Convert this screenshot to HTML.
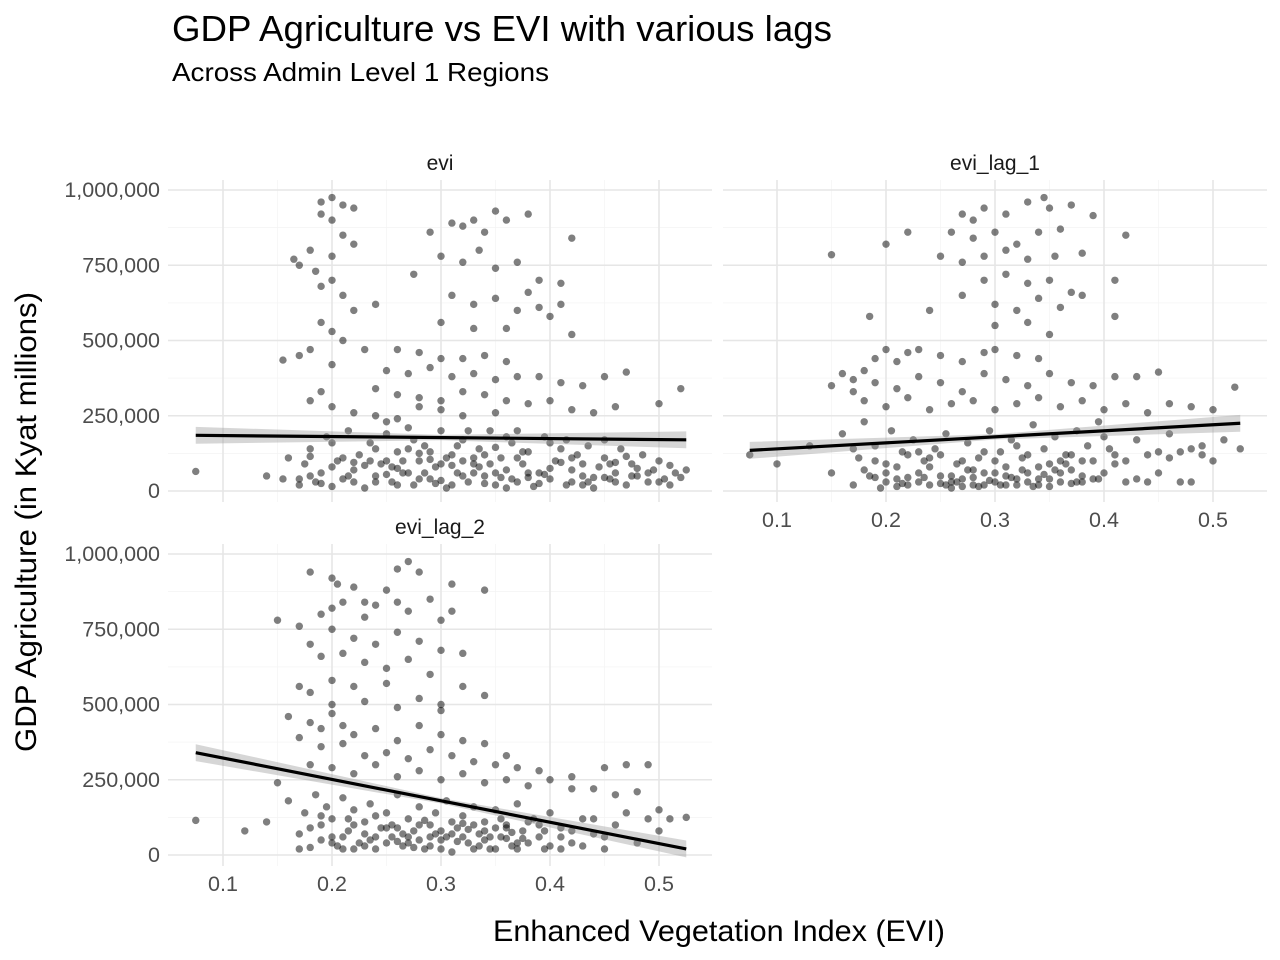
<!DOCTYPE html>
<html><head><meta charset="utf-8"><style>
body{margin:0;background:#fff;}
svg{display:block;font-family:"Liberation Sans",sans-serif;}
</style></head><body>
<svg id="chart" width="1280" height="960">
<text x="172" y="41" font-size="36" fill="#000" textLength="660" lengthAdjust="spacingAndGlyphs">GDP Agriculture vs EVI with various lags</text>
<text x="172" y="81" font-size="26" fill="#000" textLength="377" lengthAdjust="spacingAndGlyphs">Across Admin Level 1 Regions</text>
<text x="719" y="941" font-size="30" text-anchor="middle" fill="#000" textLength="452" lengthAdjust="spacingAndGlyphs">Enhanced Vegetation Index (EVI)</text>
<text transform="translate(36,522) rotate(-90)" font-size="30" text-anchor="middle" fill="#000" textLength="460" lengthAdjust="spacingAndGlyphs">GDP Agriculture (in Kyat millions)</text>
</svg>
<script>
const xTicks=[0.1,0.2,0.3,0.4,0.5];
const xTickLabels=["0.1","0.2","0.3","0.4","0.5"];
const yTicks=[0,250,500,750,1000];
const yTickLabels=["0","250,000","500,000","750,000","1,000,000"];
const panelNames=["evi","evi_lag_1","evi_lag_2"];
const fitStart=[185,135,340];
const fitEnd=[170,225,20];
const fitX=[0.075,0.525];
const eviPoints=[[0.19,960],[0.2,975],[0.21,950],[0.22,940],[0.2,900],[0.19,920],[0.21,850],[0.18,800],[0.2,780],[0.22,820],[0.165,770],[0.17,750],[0.185,730],[0.2,700],[0.19,680],[0.21,650],[0.22,600],[0.24,620],[0.19,560],[0.2,530],[0.21,500],[0.18,470],[0.17,450],[0.155,435],[0.2,420],[0.23,470],[0.19,330],[0.18,300],[0.2,280],
[0.31,890],[0.32,880],[0.33,900],[0.35,930],[0.36,900],[0.38,920],[0.34,860],[0.29,860],[0.3,780],[0.32,760],[0.335,800],[0.35,740],[0.37,760],[0.39,700],[0.41,690],[0.42,840],[0.31,650],[0.33,620],[0.35,640],[0.37,600],[0.39,610],[0.41,620],[0.275,720],[0.3,560],[0.33,540],[0.36,540],[0.42,520],[0.38,660],[0.40,580],
[0.26,470],[0.28,460],[0.30,440],[0.32,440],[0.34,450],[0.36,430],[0.25,400],[0.27,390],[0.29,410],[0.31,380],[0.33,390],[0.35,370],[0.37,380],[0.39,380],[0.41,360],[0.43,350],[0.45,380],[0.47,395],[0.24,340],[0.26,320],[0.28,310],[0.30,300],[0.32,330],[0.34,320],[0.36,300],[0.38,290],[0.40,300],[0.42,270],[0.44,260],[0.46,280],[0.5,290],[0.52,340],[0.22,260],[0.24,250],[0.26,240],[0.28,280],[0.30,270],[0.32,250],[0.35,260],[0.25,230],
[0.075,65],[0.14,50],[0.155,40],[0.16,110],[0.17,20],[0.175,90],[0.18,140],[0.185,30],[0.19,60],[0.195,180],[0.2,15],[0.205,100],[0.21,40],[0.215,200],[0.22,70],[0.225,120],[0.23,10],[0.235,160],[0.24,50],[0.245,90],[0.25,190],[0.255,30],[0.26,130],[0.265,60],[0.27,210],[0.275,20],[0.28,100],[0.285,150],[0.29,40],[0.295,80],[0.3,200],[0.305,10],[0.31,120],[0.315,60],[0.32,170],[0.325,30],[0.33,90],[0.335,140],[0.34,50],[0.345,200],[0.35,20],[0.355,110],[0.36,70],[0.365,160],[0.37,30],[0.375,90],[0.38,130],[0.385,15],[0.39,60],[0.395,180],[0.4,40],[0.405,100],[0.41,140],[0.415,20],[0.42,70],[0.425,120],[0.43,50],[0.435,150],[0.44,10],[0.445,80],[0.45,110],[0.455,40],[0.46,60],[0.465,140],[0.47,20],[0.475,90],[0.48,50],[0.485,120],[0.49,30],[0.495,70],[0.5,100],[0.505,40],[0.51,20],[0.515,60],[0.525,70],[0.25,100],[0.27,60],[0.29,130],[0.31,20],[0.33,110],[0.35,60],[0.37,200],[0.22,30],[0.24,140],[0.28,40],[0.3,90],[0.34,120],[0.36,10],[0.38,60],[0.4,160],[0.43,90],[0.46,30],[0.2,80],[0.18,50],[0.26,20],[0.32,50],[0.42,30],[0.45,170],
[0.17,40],[0.19,25],[0.21,110],[0.23,85],[0.25,55],[0.27,140],[0.29,105],[0.31,85],[0.33,60],[0.35,145],[0.37,110],[0.39,25],[0.41,95],[0.43,20],[0.45,45],[0.47,115],[0.49,60],[0.51,85],[0.18,115],[0.2,160],[0.22,95],[0.24,30],[0.26,75],[0.28,125],[0.3,35],[0.32,100],[0.34,25],[0.36,180],[0.38,45],[0.4,75],[0.42,110],[0.44,45],[0.46,95],[0.48,75],[0.5,30],[0.52,45],[0.215,50],[0.235,100],[0.255,80],[0.275,170],[0.295,25],[0.315,150],[0.335,80],[0.355,45],[0.375,130],[0.395,55],[0.415,170],[0.435,30],[0.455,90],[0.475,50],[0.265,100],[0.285,60],[0.305,110],[0.325,200],[0.345,90],[0.365,40]];
const lag1Points=[[0.15,785],[0.2,820],[0.22,860],[0.27,920],[0.28,900],[0.29,940],[0.31,920],[0.33,960],[0.345,975],[0.35,940],[0.37,950],[0.39,915],[0.26,860],[0.28,840],[0.3,860],[0.32,820],[0.34,860],[0.36,870],[0.25,780],[0.27,760],[0.29,780],[0.31,800],[0.33,770],[0.355,780],[0.38,790],[0.42,850],[0.29,700],[0.31,720],[0.33,690],[0.35,700],[0.37,660],[0.27,650],[0.3,620],[0.32,600],[0.34,640],[0.36,610],[0.38,650],[0.41,700],[0.24,600],[0.185,580],[0.3,550],[0.33,560],[0.35,520],[0.41,580],
[0.16,390],[0.17,370],[0.18,400],[0.19,440],[0.2,470],[0.21,430],[0.22,460],[0.23,470],[0.25,450],[0.27,430],[0.29,460],[0.3,470],[0.32,450],[0.34,440],[0.15,350],[0.17,330],[0.19,360],[0.21,340],[0.23,380],[0.25,360],[0.27,330],[0.29,390],[0.31,370],[0.33,350],[0.35,390],[0.37,360],[0.39,350],[0.41,380],[0.43,380],[0.45,395],[0.52,345],[0.18,300],[0.2,280],[0.22,310],[0.24,270],[0.26,290],[0.28,300],[0.3,270],[0.32,290],[0.34,310],[0.36,280],[0.38,300],[0.4,270],[0.42,290],[0.44,260],[0.46,290],[0.48,280],[0.5,270],
[0.075,120],[0.1,90],[0.13,150],[0.15,60],[0.16,190],[0.17,20],[0.175,110],[0.18,230],[0.185,50],[0.19,150],[0.195,10],[0.2,90],[0.205,200],[0.21,40],[0.215,130],[0.22,20],[0.225,170],[0.23,60],[0.235,100],[0.24,20],[0.245,140],[0.25,50],[0.255,190],[0.26,10],[0.265,90],[0.27,40],[0.275,160],[0.28,20],[0.285,110],[0.29,60],[0.295,200],[0.3,30],[0.305,130],[0.31,80],[0.315,170],[0.32,20],[0.325,110],[0.33,60],[0.335,220],[0.34,40],[0.345,140],[0.35,90],[0.355,180],[0.36,30],[0.365,120],[0.37,70],[0.375,200],[0.38,50],[0.385,150],[0.39,100],[0.395,230],[0.4,60],[0.405,140],[0.41,90],[0.42,30],[0.43,170],[0.44,120],[0.45,60],[0.46,190],[0.47,130],[0.48,30],[0.49,150],[0.5,100],[0.51,170],[0.525,140],[0.2,60],[0.22,120],[0.24,80],[0.26,50],[0.28,70],[0.3,100],[0.32,40],[0.34,80],[0.36,60],[0.38,100],[0.23,30],[0.27,100],[0.31,50],[0.35,40],[0.19,100],[0.21,80],[0.25,120],[0.29,20],[0.33,30],[0.37,120],
[0.17,140],[0.19,45],[0.21,15],[0.23,130],[0.25,25],[0.27,15],[0.29,130],[0.31,20],[0.33,120],[0.35,15],[0.37,25],[0.39,40],[0.41,120],[0.43,40],[0.45,130],[0.47,30],[0.49,120],[0.18,70],[0.2,30],[0.22,45],[0.24,110],[0.26,30],[0.28,45],[0.3,60],[0.32,150],[0.34,20],[0.36,100],[0.38,30],[0.4,180],[0.42,100],[0.44,30],[0.46,110],[0.48,140],[0.215,25],[0.235,45],[0.255,20],[0.275,70],[0.295,35],[0.315,45],[0.335,15],[0.355,70],[0.375,30],[0.395,40],[0.265,30],[0.285,15],[0.305,20],[0.325,70],[0.345,55],[0.365,90]];
const lag2Points=[[0.18,940],[0.2,920],[0.205,900],[0.22,890],[0.27,975],[0.26,950],[0.28,940],[0.31,900],[0.25,880],[0.24,830],[0.23,840],[0.21,840],[0.26,840],[0.29,850],[0.31,810],[0.34,880],[0.19,800],[0.2,820],[0.23,790],[0.27,810],[0.3,780],[0.15,780],[0.17,760],[0.18,700],[0.2,750],[0.22,720],[0.24,700],[0.26,740],[0.28,710],[0.3,680],[0.32,670],[0.19,660],[0.21,670],[0.23,640],[0.25,620],[0.27,650],[0.29,600],[0.17,560],[0.2,580],[0.22,560],[0.25,570],[0.28,520],[0.3,480],[0.32,560],[0.34,530],[0.18,540],[0.2,500],[0.23,510],[0.26,490],[0.3,500],
[0.16,460],[0.18,440],[0.19,420],[0.2,470],[0.21,430],[0.22,400],[0.24,420],[0.26,380],[0.28,430],[0.3,400],[0.32,380],[0.34,370],[0.36,330],[0.17,390],[0.19,360],[0.21,370],[0.23,330],[0.25,340],[0.27,320],[0.29,350],[0.31,330],[0.33,310],[0.35,300],[0.37,290],[0.39,280],[0.42,260],[0.45,290],[0.47,300],[0.49,300],[0.18,300],[0.2,290],[0.22,270],[0.24,300],[0.26,260],[0.28,280],[0.3,250],[0.32,270],[0.34,240],[0.36,250],[0.38,230],[0.4,250],[0.42,220],[0.44,220],[0.46,200],[0.48,210],[0.5,150],
[0.075,115],[0.12,80],[0.14,110],[0.15,240],[0.16,180],[0.17,20],[0.175,140],[0.18,90],[0.185,200],[0.19,50],[0.195,160],[0.2,120],[0.205,30],[0.21,190],[0.215,80],[0.22,150],[0.225,40],[0.23,110],[0.235,170],[0.24,20],[0.245,90],[0.25,140],[0.255,60],[0.26,200],[0.265,30],[0.27,120],[0.275,80],[0.28,160],[0.285,20],[0.29,100],[0.295,140],[0.3,50],[0.305,180],[0.31,10],[0.315,90],[0.32,130],[0.325,40],[0.33,160],[0.335,70],[0.34,110],[0.345,20],[0.35,150],[0.355,60],[0.36,100],[0.365,30],[0.37,170],[0.375,80],[0.38,40],[0.385,120],[0.39,60],[0.395,20],[0.4,140],[0.41,90],[0.42,40],[0.43,120],[0.44,70],[0.45,20],[0.46,100],[0.47,140],[0.48,40],[0.49,120],[0.5,80],[0.51,120],[0.525,125],[0.2,60],[0.22,100],[0.24,60],[0.26,90],[0.28,50],[0.3,80],[0.32,60],[0.34,50],[0.36,90],[0.23,70],[0.27,40],[0.31,110],[0.35,20],[0.19,130],[0.21,20],[0.25,40],[0.29,60],[0.33,100],[0.37,40],[0.41,20],
[0.17,70],[0.19,100],[0.21,60],[0.23,30],[0.25,90],[0.27,60],[0.29,30],[0.31,70],[0.33,20],[0.35,90],[0.37,20],[0.39,100],[0.41,60],[0.43,30],[0.45,60],[0.18,25],[0.2,40],[0.22,20],[0.24,130],[0.26,45],[0.28,100],[0.3,20],[0.32,105],[0.34,80],[0.36,55],[0.38,110],[0.4,30],[0.42,80],[0.44,120],[0.215,120],[0.235,50],[0.255,100],[0.275,25],[0.295,70],[0.315,45],[0.335,30],[0.355,120],[0.375,55],[0.395,80],[0.265,70],[0.285,115],[0.305,60],[0.325,85],[0.345,60],[0.365,75]];
const allPoints=[eviPoints,lag1Points,lag2Points];
const panels=[{x0:168,x1:712,y0:180,y1:502,ox:114,oy:491,showX:false,showY:true,sy:170},
{x0:723,x1:1267,y0:180,y1:502,ox:668,oy:491,showX:true,showY:false,sy:170},
{x0:168,x1:712,y0:544,y1:866,ox:114,oy:855,showX:true,showY:true,sy:534}];
const NS="http://www.w3.org/2000/svg";
const svg=document.getElementById('chart');
function mk(t,a,p){const e=document.createElementNS(NS,t);for(const k in a)e.setAttribute(k,a[k]);(p||svg).appendChild(e);return e;}
panels.forEach((P,i)=>{
 const X=v=>P.ox+v*1090, Y=v=>P.oy-v*0.301;
 const g=mk('g',{});
 
 
 [0.15,0.25,0.35,0.45].forEach(v=>mk('line',{x1:X(v),x2:X(v),y1:P.y0,y2:P.y1,stroke:'#f4f4f4','stroke-width':0.7},g));
 [125,375,625,875].forEach(v=>mk('line',{x1:P.x0,x2:P.x1,y1:Y(v),y2:Y(v),stroke:'#f4f4f4','stroke-width':0.7},g));
 xTicks.forEach(v=>mk('line',{x1:X(v),x2:X(v),y1:P.y0,y2:P.y1,stroke:'#e6e6e6','stroke-width':1.6},g));
 yTicks.forEach(v=>mk('line',{x1:P.x0,x2:P.x1,y1:Y(v),y2:Y(v),stroke:'#e6e6e6','stroke-width':1.6},g));
 const s=mk('text',{x:(P.x0+P.x1)/2,y:P.sy,'font-size':21,'text-anchor':'middle',fill:'#1a1a1a'},g);
 s.textContent=panelNames[i];
 
 
 if(P.showY) yTicks.forEach((v,j)=>{const t=mk('text',{x:P.x0-8,y:Y(v)+7,'font-size':21.5,'text-anchor':'end',fill:'#4d4d4d'},g);t.textContent=yTickLabels[j];
  
  });
 if(P.showX) xTicks.forEach((v,j)=>{const t=mk('text',{x:X(v),y:P.y1+25,'font-size':21.5,'text-anchor':'middle',fill:'#4d4d4d'},g);t.textContent=xTickLabels[j];
  
  });
 allPoints[i].forEach(p=>{const c=mk('circle',{cx:X(p[0]),cy:Y(p[1]),r:3.7,fill:'#000','fill-opacity':0.5},g);
  
  });
 const a=fitStart[i],b=fitEnd[i],xa=X(fitX[0]),xb=X(fitX[1]);
 const rib=mk('polygon',{points:`${xa},${Y(a+28)} ${X(0.3)},${Y((a+b)/2+9)} ${xb},${Y(b+28)} ${xb},${Y(b-28)} ${X(0.3)},${Y((a+b)/2-9)} ${xa},${Y(a-28)}`,fill:'#999','fill-opacity':0.4},g);
 
 
 const ln=mk('line',{x1:xa,y1:Y(a),x2:xb,y2:Y(b),stroke:'#000','stroke-width':3.2},g);
 
 
});
</script>
</body></html>
